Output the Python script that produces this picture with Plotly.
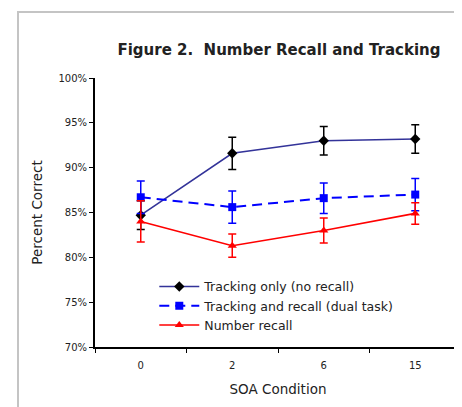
import plotly.graph_objects as go

# ---- data ----
soa_conditions = ["0", "2", "6", "15"]

tracking_only = [84.7, 91.6, 93.0, 93.2]
tracking_only_err = [1.6, 1.8, 1.6, 1.6]

tracking_recall = [86.7, 85.6, 86.6, 87.0]
tracking_recall_err = [1.8, 1.8, 1.7, 1.8]

number_recall = [84.0, 81.3, 83.0, 84.9]
number_recall_err = [2.3, 1.3, 1.4, 1.2]

y_tick_values = [70, 75, 80, 85, 90, 95, 100]
y_tick_labels = ["70%", "75%", "80%", "85%", "90%", "95%", "100%"]

FONT = "DejaVu Sans"
TEXT = "#222222"

# page body has an 8px margin, so the figure is sized to fill the rest of the window
W, H = 454, 399

fig = go.Figure()

fig.add_trace(go.Scatter(
    x=soa_conditions, y=tracking_only, name="Tracking only (no recall)",
    mode="lines+markers",
    line=dict(color="#333399", width=1.6),
    marker=dict(symbol="diamond", size=8, color="black"),
    error_y=dict(type="data", array=tracking_only_err, color="black", thickness=1.5, width=4),
))
fig.add_trace(go.Scatter(
    x=soa_conditions, y=tracking_recall, name="Tracking and recall (dual task)",
    mode="lines+markers",
    line=dict(color="#0000FF", width=2, dash="10px,6px"),
    marker=dict(symbol="square", size=8, color="#0000FF"),
    error_y=dict(type="data", array=tracking_recall_err, color="#0000FF", thickness=1.5, width=4),
))
fig.add_trace(go.Scatter(
    x=soa_conditions, y=number_recall, name="Number recall",
    mode="lines+markers",
    line=dict(color="#FF0000", width=1.6),
    marker=dict(symbol="triangle-up", size=8, color="#FF0000"),
    error_y=dict(type="data", array=number_recall_err, color="#FF0000", thickness=1.5, width=4),
))

# outer chart frame (gray border, cut off on the right and bottom)
fig.add_shape(type="rect", xref="paper", yref="paper",
              x0=-0.2104, x1=1.05, y0=-0.35, y1=1.2454,
              line=dict(color="#c4c4c4", width=2), fillcolor="rgba(0,0,0,0)", layer="below")

fig.update_layout(
    width=W, height=H,
    margin=dict(l=87, r=1, t=70, b=60),
    paper_bgcolor="white", plot_bgcolor="white",
    font=dict(family=FONT, color=TEXT),
    title=dict(text="Figure 2.\u00a0 Number Recall and Tracking",
               font=dict(family=FONT, size=15, color=TEXT, weight="bold"),
               x=271 / W, xanchor="center", xref="container",
               y=1 - 42 / H, yanchor="middle", yref="container"),
    showlegend=True,
    legend=dict(x=0.162, y=0.279, xanchor="left", yanchor="top",
                bgcolor="rgba(0,0,0,0)", font=dict(family=FONT, size=12.5, color=TEXT),
                itemwidth=40, tracegroupgap=0),
    xaxis=dict(type="category", range=[-0.5, 3.5],
               showline=True, linecolor="black", linewidth=2,
               ticks="outside", tickson="boundaries", ticklen=4, tickcolor="black",
               ticklabelstandoff=8,
               showgrid=False, zeroline=False,
               tickfont=dict(family=FONT, size=10, color=TEXT),
               title=dict(text="SOA Condition", font=dict(family=FONT, size=13.5, color=TEXT),
                          standoff=15)),
    yaxis=dict(range=[70, 100], tickvals=y_tick_values, ticktext=y_tick_labels,
               showline=True, linecolor="black", linewidth=2,
               ticks="outside", ticklen=4, tickcolor="black",
               showgrid=False, zeroline=False,
               tickfont=dict(family=FONT, size=10, color=TEXT),
               title=dict(text="Percent Correct", font=dict(family=FONT, size=13.5, color=TEXT),
                          standoff=13)),
)

fig.write_html("out.html")
